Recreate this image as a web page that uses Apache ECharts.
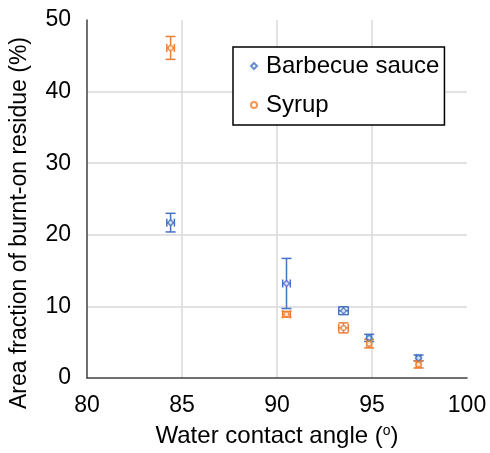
<!DOCTYPE html>
<html>
<head>
<meta charset="utf-8">
<script src="https://cdn.jsdelivr.net/npm/echarts@6/dist/echarts.min.js"></script>
<style>
  html, body { margin: 0; padding: 0; background: #ffffff; }
  #chart { width: 490px; height: 453px; }
</style>
</head>
<body>
<div id="chart"></div>
<script>
// Water contact angle (degrees) and burnt-on residue area fraction (%)
const bbqAngle   = [84.4, 90.5, 93.5, 94.85, 97.45];
const bbqArea    = [21.7, 13.2, 9.4, 5.6, 2.8];
const bbqAngleErr = [0.2, 0.2, 0.25, 0.12, 0.12];
const bbqAreaErr  = [1.3, 3.5, 0.55, 0.5, 0.4];

const syrupAngle   = [84.4, 90.5, 93.5, 94.85, 97.45];
const syrupArea    = [46.1, 8.9, 7.0, 4.8, 1.9];
const syrupAngleErr = [0.2, 0.2, 0.25, 0.12, 0.12];
const syrupAreaErr  = [1.6, 0.4, 0.7, 0.6, 0.5];

const xTicks = [80, 85, 90, 95, 100];
const yTicks = [0, 10, 20, 30, 40, 50];

const BLUE = '#4472C4';
const ORANGE = '#ED7D31';
const FONT = 'Liberation Sans, Arial, sans-serif';

function pairs(xs, ys) { return xs.map((x, i) => [x, ys[i]]); }
function withErrors(xs, ys, exs, eys) { return xs.map((x, i) => [x, ys[i], exs[i], eys[i]]); }

// Draws a cross of x/y error bars with end caps around each point
function errorBars(color) {
  return function (params, api) {
    const x = api.value(0), y = api.value(1), ex = api.value(2), ey = api.value(3);
    const c = api.coord([x, y]);
    const top = api.coord([x, y + ey])[1];
    const bot = api.coord([x, y - ey])[1];
    const lft = api.coord([x - ex, y])[0];
    const rgt = api.coord([x + ex, y])[0];
    const capV = 5, capH = 4;
    const style = { stroke: color, lineWidth: 1.5, fill: null };
    const seg = (x1, y1, x2, y2) => ({ type: 'line', shape: { x1, y1, x2, y2 }, style });
    return {
      type: 'group',
      children: [
        seg(c[0], top, c[0], bot),
        seg(c[0] - capV, top, c[0] + capV, top),
        seg(c[0] - capV, bot, c[0] + capV, bot),
        seg(lft, c[1], rgt, c[1]),
        seg(lft, c[1] - capH, lft, c[1] + capH),
        seg(rgt, c[1] - capH, rgt, c[1] + capH)
      ]
    };
  };
}

const chart = echarts.init(document.getElementById('chart'), null, { renderer: 'canvas' });

chart.setOption({
  animation: false,
  backgroundColor: '#ffffff',
  textStyle: { fontFamily: FONT },
  grid: { left: 87, right: 23, top: 20, bottom: 75 },
  legend: {
    data: ['Barbecue sauce', 'Syrup'],
    orient: 'vertical',
    left: 233,
    top: 47,
    padding: [7, 5, 8, 17],
    itemGap: 15,
    itemWidth: 6,
    itemHeight: 6,
    borderColor: '#000000',
    borderWidth: 1.5,
    backgroundColor: '#ffffff',
    textStyle: { fontFamily: FONT, fontSize: 24, color: '#000000', padding: [0, 0, 0, 4] }
  },
  xAxis: {
    type: 'value',
    min: xTicks[0],
    max: xTicks[xTicks.length - 1],
    interval: 5,
    name: '{a|Water contact angle (}{s|o}{a|)}',
    nameLocation: 'middle',
    nameGap: 46,
    nameTextStyle: {
      rich: {
        a: { fontFamily: FONT, fontSize: 24, color: '#000000' },
        s: { fontFamily: FONT, fontSize: 14, color: '#000000', verticalAlign: 'top', padding: [0, 0, 8, 0] }
      }
    },
    axisLine: { show: true, lineStyle: { color: '#404040', width: 1.5 } },
    axisTick: { show: false },
    axisLabel: { fontSize: 23, color: '#000000', margin: 16, fontFamily: FONT },
    splitLine: { show: true, showMinLine: false, showMaxLine: false, lineStyle: { color: '#d9d9d9', width: 1.5 } }
  },
  yAxis: {
    type: 'value',
    min: yTicks[0],
    max: yTicks[yTicks.length - 1],
    interval: 10,
    name: 'Area fraction of burnt-on residue (%)',
    nameLocation: 'middle',
    nameGap: 56,
    nameTextStyle: { fontFamily: FONT, fontSize: 23, color: '#000000', padding: [0, 48, 0, 0] },
    axisLine: { show: true, lineStyle: { color: '#404040', width: 1.5 } },
    axisTick: { show: false },
    axisLabel: { fontSize: 23, color: '#000000', margin: 16, fontFamily: FONT },
    splitLine: { show: true, showMinLine: false, showMaxLine: false, lineStyle: { color: '#d9d9d9', width: 1.5 } }
  },
  series: [
    {
      type: 'custom',
      name: 'bbq-err',
      renderItem: errorBars(BLUE),
      data: withErrors(bbqAngle, bbqArea, bbqAngleErr, bbqAreaErr),
      z: 3
    },
    {
      type: 'custom',
      name: 'syrup-err',
      renderItem: errorBars(ORANGE),
      data: withErrors(syrupAngle, syrupArea, syrupAngleErr, syrupAreaErr),
      z: 3
    },
    {
      type: 'scatter',
      name: 'Barbecue sauce',
      symbol: 'diamond',
      symbolSize: 6,
      itemStyle: { color: '#ffffff', borderColor: BLUE, borderWidth: 1.5 },
      data: pairs(bbqAngle, bbqArea),
      z: 4
    },
    {
      type: 'scatter',
      name: 'Syrup',
      symbol: 'circle',
      symbolSize: 5,
      itemStyle: { color: '#ffffff', borderColor: ORANGE, borderWidth: 1.5 },
      data: pairs(syrupAngle, syrupArea),
      z: 4
    }
  ]
});
</script>
</body>
</html>
